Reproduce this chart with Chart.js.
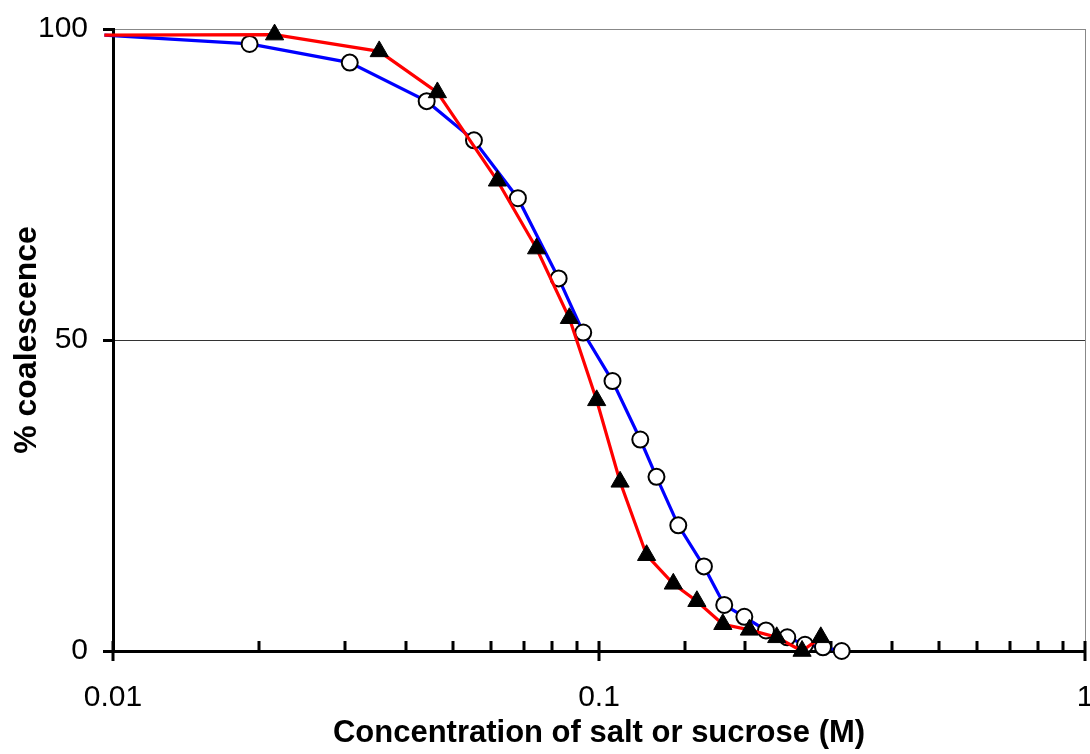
<!DOCTYPE html>
<html>
<head>
<meta charset="utf-8">
<script src="https://cdn.jsdelivr.net/npm/chart.js@4.4.1/dist/chart.umd.min.js"></script>
<style>
  html, body { margin: 0; padding: 0; background: #fff; }
  #wrap { width: 1090px; height: 754px; }
</style>
</head>
<body>
<div id="wrap"><canvas id="chartLine"></canvas></div>
<script>
// red line, black triangles
const triConc = [0.0096, 0.0215, 0.0353, 0.0465, 0.0618, 0.0744, 0.0869, 0.0989, 0.1105, 0.1253, 0.1422, 0.159, 0.1798, 0.2039, 0.2321, 0.2617, 0.286];
const triCoal = [99.0, 99.1, 96.4, 89.8, 75.6, 64.7, 53.5, 40.3, 27.2, 15.4, 10.8, 8.0, 4.3, 3.4, 2.2, 0, 2.2];
// blue line, white circles
const circConc = [0.0096, 0.0191, 0.0307, 0.0442, 0.0553, 0.0681, 0.0826, 0.0928, 0.1066, 0.1216, 0.1313, 0.1456, 0.1644, 0.181, 0.1991, 0.2206, 0.244, 0.2654, 0.289, 0.3158];
const circCoal = [99.0, 97.6, 94.6, 88.4, 82.1, 72.8, 59.9, 51.2, 43.4, 34.0, 28.0, 20.2, 13.6, 7.4, 5.5, 3.3, 2.2, 1.0, 0.6, 0];

const xTickLabels = ["0.01", "0.1", "1"];
const yTicks = [0, 50, 100];

function isMajor(v) {
    const l = Math.log10(v);
    return Math.abs(l - Math.round(l)) < 1e-6;
}

// excel style ticks: minor ones point inward, major ones cross the axis
const axisTicks = {
    id: "axisTicks",
    beforeDatasetsDraw(chart) {
        const c = chart.ctx;
        const x = chart.scales.x;
        const a = chart.chartArea;
        c.save();
        c.strokeStyle = "#888";
        c.lineWidth = 1;
        c.beginPath();
        c.moveTo(a.right + 0.5, a.top);
        c.lineTo(a.right + 0.5, a.bottom);
        c.stroke();
        c.strokeStyle = "#000";
        c.lineWidth = 3;
        x.ticks.forEach(t => {
            const px = Math.round(x.getPixelForValue(t.value));
            const major = isMajor(t.value);
            c.beginPath();
            c.moveTo(px, a.bottom - 10);
            c.lineTo(px, major ? a.bottom + 10 : a.bottom);
            c.stroke();
        });
        c.restore();
    }
};

const ctx = document.getElementById("chartLine");
new Chart(ctx, {
    type: "line",
    data: {
        datasets: [
            {
                data: triConc.map((v, i) => ({ x: v, y: triCoal[i] })),
                borderColor: "#FF0000",
                borderWidth: 3.2,
                pointStyle: "triangle",
                pointRadius: c => (c.dataIndex === 0 ? 0 : 10.5),
                pointBackgroundColor: "#000",
                pointBorderColor: "#000",
                pointBorderWidth: 1,
                clip: false,
            },
            {
                data: circConc.map((v, i) => ({ x: v, y: circCoal[i] })),
                borderColor: "#0000FF",
                borderWidth: 3.2,
                pointStyle: "circle",
                pointRadius: c => (c.dataIndex === 0 ? 0 : 8),
                pointBackgroundColor: "#fff",
                pointBorderColor: "#000",
                pointBorderWidth: 2,
                clip: false,
            },
        ],
    },
    options: {
        responsive: true,
        maintainAspectRatio: false,
        animation: false,
        layout: {
            autoPadding: false,
            padding: { top: 29, right: 5, left: 0, bottom: 0 },
        },
        plugins: {
            legend: { display: false },
            tooltip: { enabled: false },
        },
        scales: {
            x: {
                type: "logarithmic",
                min: 0.01,
                max: 1,
                grid: { display: false },
                border: { display: true, color: "#000", width: 3 },
                ticks: {
                    autoSkip: false,
                    maxRotation: 0,
                    padding: 21,
                    color: "#000",
                    font: { family: "Liberation Sans", size: 30 },
                    callback: v => {
                        if (!isMajor(v)) return "";
                        const k = Math.round(Math.log10(v)) + 2;
                        return xTickLabels[k];
                    },
                },
                title: {
                    display: true,
                    text: "Concentration of salt or sucrose (M)",
                    color: "#000",
                    font: { family: "Liberation Sans", size: 31, weight: "bold" },
                    padding: { top: 0, bottom: 2 },
                },
                afterFit: s => {
                    s.height = 103;
                    s.paddingLeft = 0;
                    s.paddingRight = 0;
                },
            },
            y: {
                min: 0,
                max: 100,
                afterBuildTicks: s => {
                    s.ticks = yTicks.map(v => ({ value: v }));
                },
                grid: {
                    color: c => (c.tick && c.tick.value === 50 ? "#333" : c.tick && c.tick.value === 100 ? "#888" : "rgba(0,0,0,0)"),
                    lineWidth: 1,
                    tickLength: 10,
                    tickColor: "#000",
                    tickWidth: 3,
                },
                border: { display: true, color: "#000", width: 3 },
                ticks: {
                    padding: 15,
                    color: "#000",
                    font: { family: "Liberation Sans", size: 30 },
                },
                title: {
                    display: true,
                    text: "% coalescence",
                    color: "#000",
                    font: { family: "Liberation Sans", size: 32, weight: "bold" },
                    padding: { top: 8, bottom: 0 },
                },
                afterFit: s => {
                    s.width = 113;
                    s.paddingTop = 0;
                    s.paddingBottom = 0;
                },
            },
        },
    },
    plugins: [axisTicks],
});
</script>
</body>
</html>
